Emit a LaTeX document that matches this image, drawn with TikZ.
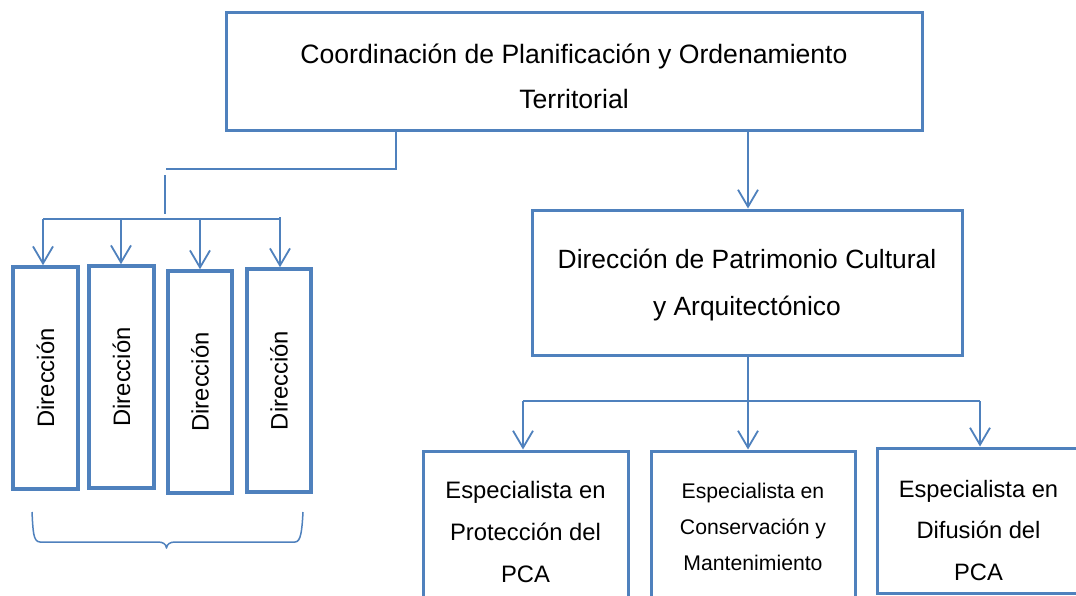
\documentclass[tikz,border=0pt]{standalone}
\usepackage{fontspec}
\setmainfont{Liberation Sans}
\usetikzlibrary{arrows.meta}
\definecolor{ob}{RGB}{79,129,189}
\begin{document}
\begin{tikzpicture}[x=1pt,y=-1pt,
  box/.style={draw=ob, line width=3pt, inner sep=0pt},
  dbox/.style={draw=ob, line width=3.6pt, inner sep=0pt},
  txt/.style={inner sep=0pt, align=center, anchor=base},
  conn/.style={draw=ob, line width=1.8pt},
  arr/.style={conn, -{Straight Barb[length=17pt,width=20pt]}}]
\fill[white] (0,0) rectangle (1076,595);
\clip (0,0) rectangle (1076,595);
% boxes
\node[box, minimum width=696pt, minimum height=118pt] (top) at (574,71) {};
\node[box, minimum width=430pt, minimum height=145pt] (pat) at (747,282.5) {};
\node[dbox, minimum width=65pt, minimum height=222pt] (d1) at (45.5,378) {};
\node[dbox, minimum width=65pt, minimum height=222pt] (d2) at (121.5,377) {};
\node[dbox, minimum width=64pt, minimum height=222pt] (d3) at (200,382) {};
\node[dbox, minimum width=64pt, minimum height=223pt] (d4) at (279,380.5) {};
\node[box, minimum width=205pt, minimum height=189pt] (e1) at (525.5,545.5) {};
\node[box, minimum width=204pt, minimum height=189pt] (e2) at (753,545.5) {};
\node[box, minimum width=203pt, minimum height=145pt] (e3) at (978.5,520.5) {};
% texts (anchor base = baseline of the last line)
\node[txt, font=\fontsize{26.6}{45}\selectfont] (ttop) at (574,108) {Coordinación de Planificación y Ordenamiento\\Territorial};
\node[txt, font=\fontsize{26.4}{47}\selectfont] (tpat) at (747,315) {Dirección de Patrimonio Cultural\\y Arquitectónico};
\node[txt, font=\fontsize{23.8}{42}\selectfont] (te1) at (525.5,582) {Especialista en\\Protección del\\PCA};
\node[txt, font=\fontsize{21.2}{36}\selectfont] (te2) at (753,570) {Especialista en\\Conservación y\\Mantenimiento};
\node[txt, font=\fontsize{23.7}{41.5}\selectfont] (te3) at (978.5,580) {Especialista en\\Difusión del\\PCA};
\foreach \i in {1,...,4}{
  \node[rotate=90, inner sep=0pt, font=\fontsize{23.8}{28}\selectfont] (td\i) at (d\i) {Dirección};
}
% left connectors
\coordinate (ta) at (396,130);
\coordinate (ja) at (166,169);
\coordinate (jb1) at (165,175);
\coordinate (jb2) at (165,214);
\coordinate (h1) at (43,219);
\coordinate (h2) at (121,219);
\coordinate (h3) at (200,219);
\coordinate (h4) at (280,219);
\coordinate (h4t) at (280,217);
\draw[conn] (ta |- top.south) |- (ja);
\draw[conn] (jb1) -- (jb2);
\draw[conn] (h1) -- (h4);
\draw[arr] (h1) -- (h1 |- d1.north);
\draw[arr] (h2) -- (h2 |- d2.north);
\draw[arr] (h3) -- (h3 |- d3.north);
\draw[arr] (h4t) -- (h4t |- d4.north);
% right connectors
\coordinate (pa) at (748,130);
\draw[arr] (pa |- top.south) -- (pa |- pat.north);
\coordinate (s1) at (523,401);
\coordinate (s2) at (748,401);
\coordinate (s3) at (980,401);
\draw[conn] (s1) -- (s3);
\draw[arr] (s2 |- pat.south) -- (s2 |- e2.north);
\draw[arr] (s1) -- (s1 |- e1.north);
\draw[arr] (s3) -- (s3 |- e3.north);
% brace
\draw[ob, line width=1.5pt, line join=round] (32,512) .. controls (33,530) and (33,542) .. (40,542) -- (158,542)
  .. controls (163,542) and (166,544) .. (166.5,548)
  .. controls (167,544) and (170,542) .. (175,542) -- (295,542)
  .. controls (301,542) and (302,530) .. (303,512);
\end{tikzpicture}
\end{document}
